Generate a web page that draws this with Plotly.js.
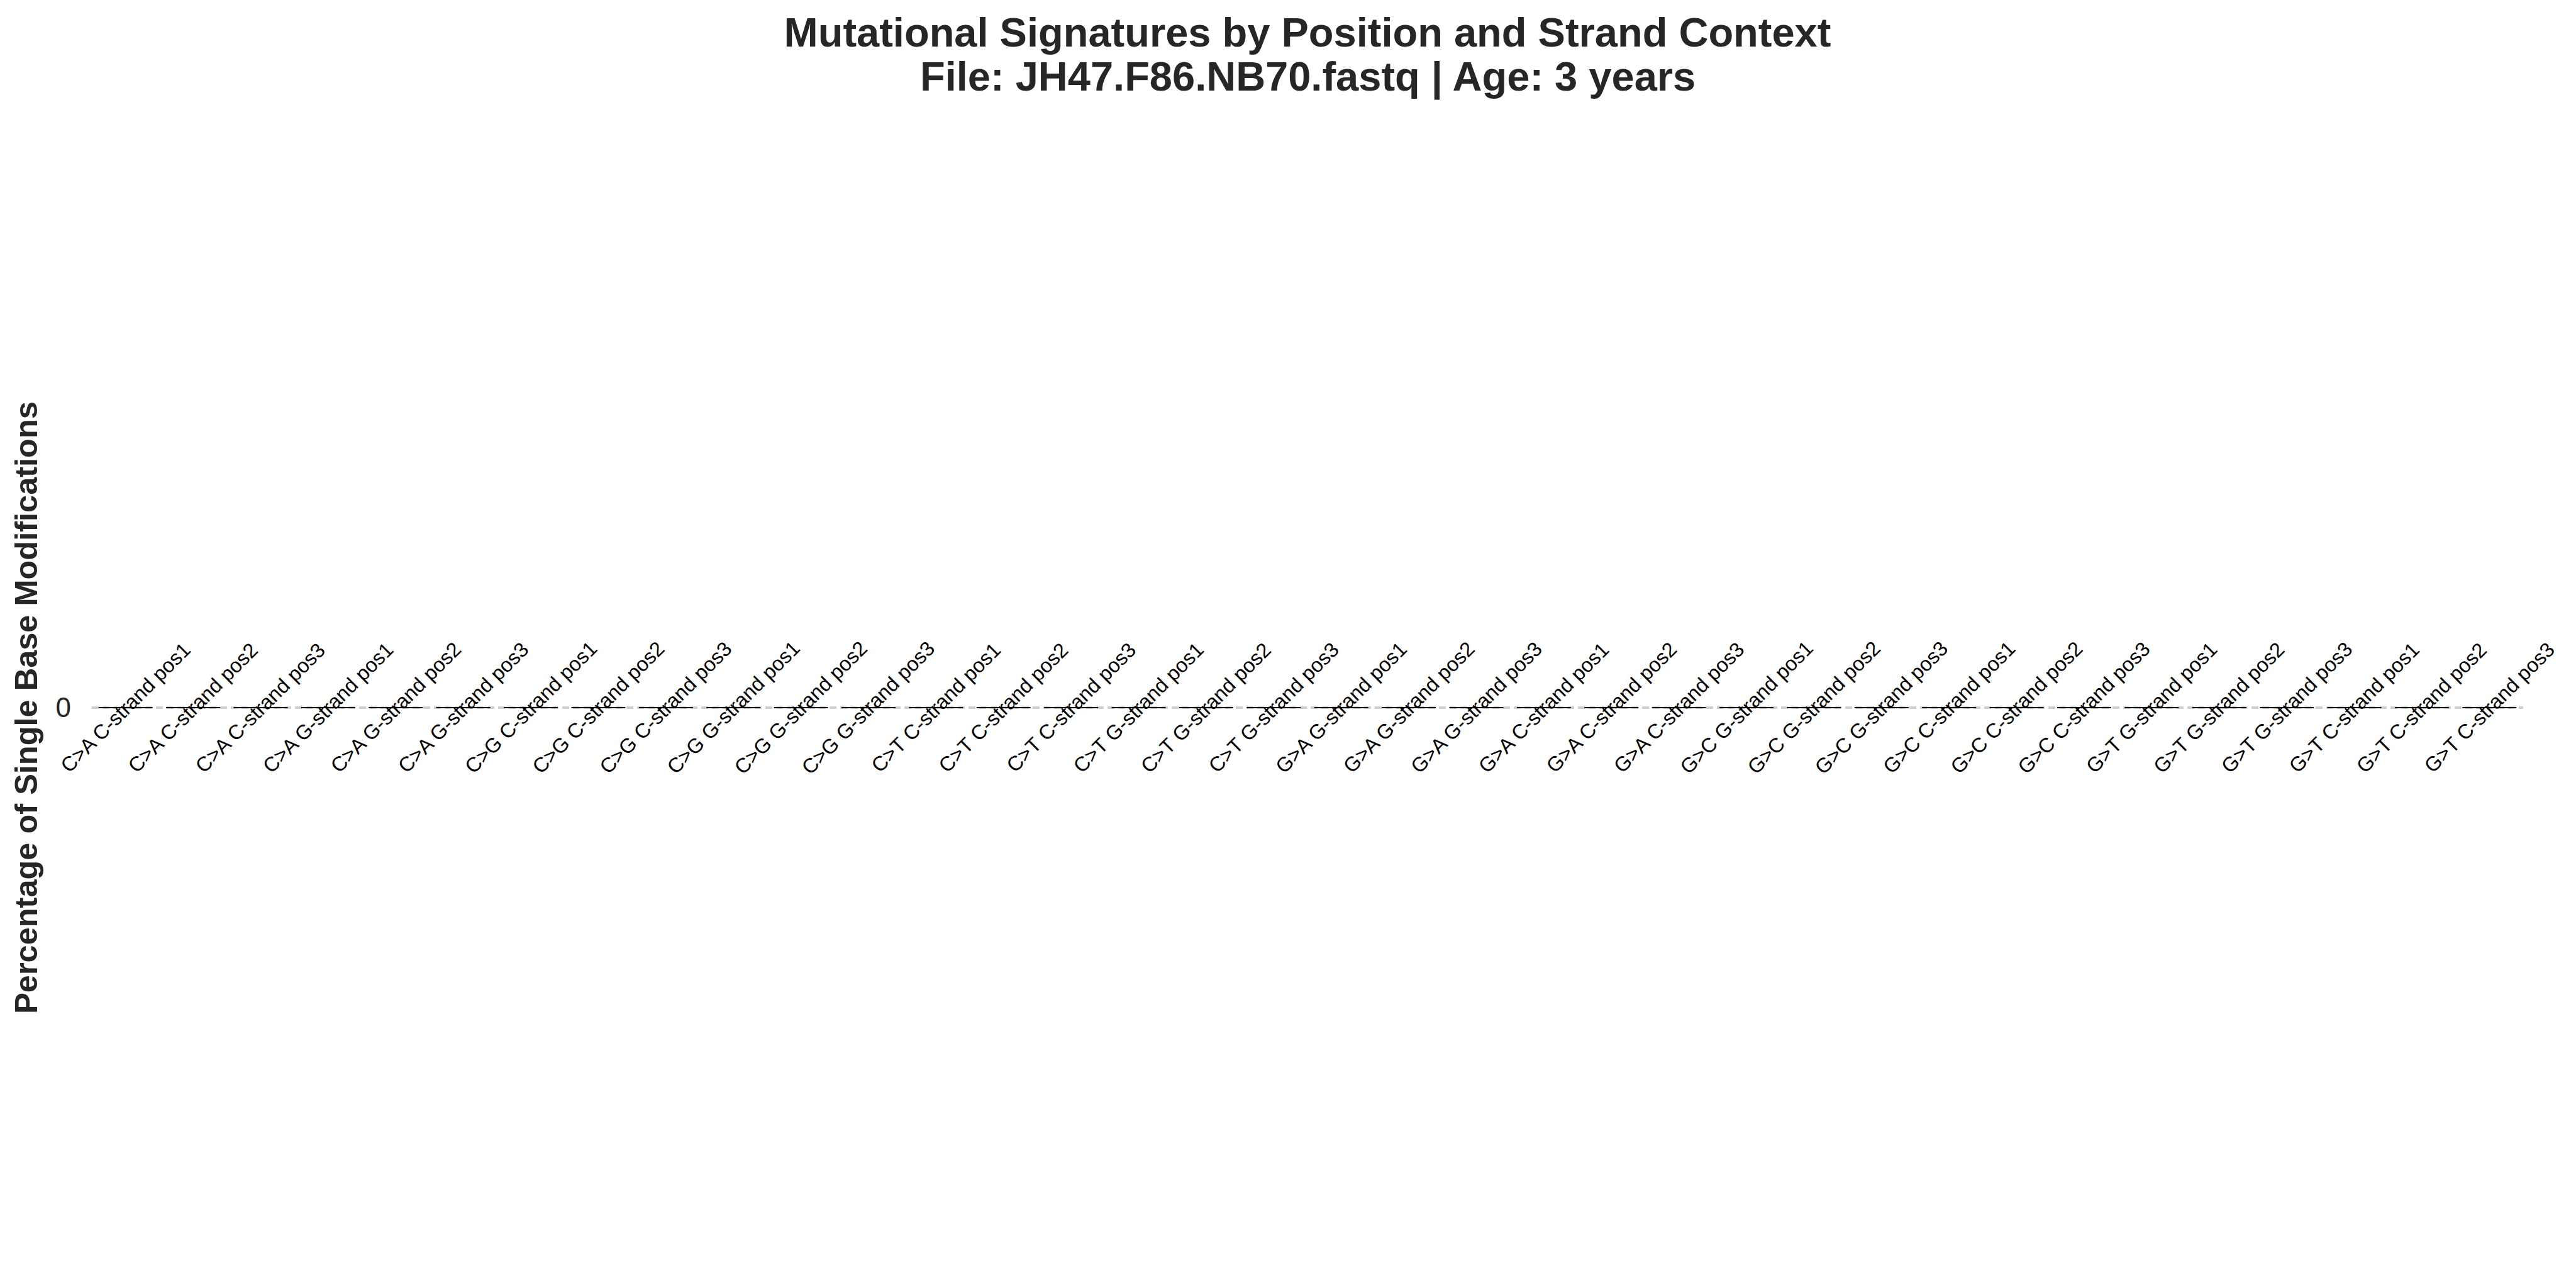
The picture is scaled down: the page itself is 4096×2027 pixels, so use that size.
<!DOCTYPE html>
<html>
<head>
<meta charset="utf-8">
<script src="https://cdn.plot.ly/plotly-3.0.1.min.js"></script>
<style>html,body{margin:0;padding:0;background:#fff;}#chart{width:4096px;height:2027px;}</style>
</head>
<body>
<div id="chart"></div>
<script>
const categories = [
  "C>A C-strand pos1", "C>A C-strand pos2", "C>A C-strand pos3",
  "C>A G-strand pos1", "C>A G-strand pos2", "C>A G-strand pos3",
  "C>G C-strand pos1", "C>G C-strand pos2", "C>G C-strand pos3",
  "C>G G-strand pos1", "C>G G-strand pos2", "C>G G-strand pos3",
  "C>T C-strand pos1", "C>T C-strand pos2", "C>T C-strand pos3",
  "C>T G-strand pos1", "C>T G-strand pos2", "C>T G-strand pos3",
  "G>A G-strand pos1", "G>A G-strand pos2", "G>A G-strand pos3",
  "G>A C-strand pos1", "G>A C-strand pos2", "G>A C-strand pos3",
  "G>C G-strand pos1", "G>C G-strand pos2", "G>C G-strand pos3",
  "G>C C-strand pos1", "G>C C-strand pos2", "G>C C-strand pos3",
  "G>T G-strand pos1", "G>T G-strand pos2", "G>T G-strand pos3",
  "G>T C-strand pos1", "G>T C-strand pos2", "G>T C-strand pos3"
];
const percentages = [
  0, 0, 0, 0, 0, 0, 0, 0, 0, 0, 0, 0,
  0, 0, 0, 0, 0, 0, 0, 0, 0, 0, 0, 0,
  0, 0, 0, 0, 0, 0, 0, 0, 0, 0, 0, 0
];
const yTickValues = [0];
const yTickLabels = ["0"];
const titleLine1 = "Mutational Signatures by Position and Strand Context";
const titleLine2 = "File: JH47.F86.NB70.fastq | Age: 3 years";
const yTitle = "Percentage of Single Base Modifications";

const FONT = "Liberation Sans, Arial, Helvetica, sans-serif";
const W = 4096, H = 2027;
const M = {l: 146, r: 84, t: 300, b: 77};
const plotH = H - M.t - M.b;

const trace = {
  type: "bar",
  x: categories,
  y: percentages,
  width: 0.8,
  marker: {color: "rgba(0,0,0,0)", line: {color: "#000000", width: 1.8}},
  hoverinfo: "x+y",
  showlegend: false
};

const labelAnnotations = categories.map((c) => ({
  x: c, y: 0, xref: "x", yref: "y",
  text: c, showarrow: false, textangle: -45,
  xanchor: "center", yanchor: "middle",
  font: {family: FONT, size: 32.5, color: "#000000"}
}));

const line2Baseline = 144.5;
labelAnnotations.push({
  x: 0.5, xref: "paper",
  y: (H - M.b - (line2Baseline + 16)) / plotH, yref: "paper",
  text: "<b>" + titleLine2 + "</b>", showarrow: false,
  xanchor: "center", yanchor: "bottom",
  font: {family: FONT, size: 65, color: "#262626"}
});

const layout = {
  width: W, height: H,
  paper_bgcolor: "#ffffff", plot_bgcolor: "#ffffff",
  margin: M,
  title: {
    text: "<b>" + titleLine1 + "</b>",
    x: 0.5, xref: "paper", xanchor: "center",
    y: 1 - 50.75 / H, yref: "container", yanchor: "middle",
    font: {family: FONT, size: 65, color: "#262626"}
  },
  xaxis: {
    type: "category",
    range: [-0.5, 35.5],
    showticklabels: false, ticks: "",
    showgrid: false, zeroline: false, showline: false
  },
  yaxis: {
    range: [-1, 1],
    tickmode: "array", tickvals: yTickValues, ticktext: yTickLabels,
    ticks: "", ticklabelstandoff: 32,
    tickfont: {family: FONT, size: 44, color: "#262626"},
    showgrid: true, gridcolor: "#d0d0d0", gridwidth: 3.5, griddash: "11px,6px",
    zeroline: false, showline: false,
    title: {
      text: "<b>" + yTitle + "</b>",
      font: {family: FONT, size: 50.5, color: "#262626"},
      standoff: 12
    }
  },
  annotations: labelAnnotations,
  bargap: 0.2
};

Plotly.newPlot("chart", [trace], layout, {staticPlot: true, displayModeBar: false});
</script>
</body>
</html>
